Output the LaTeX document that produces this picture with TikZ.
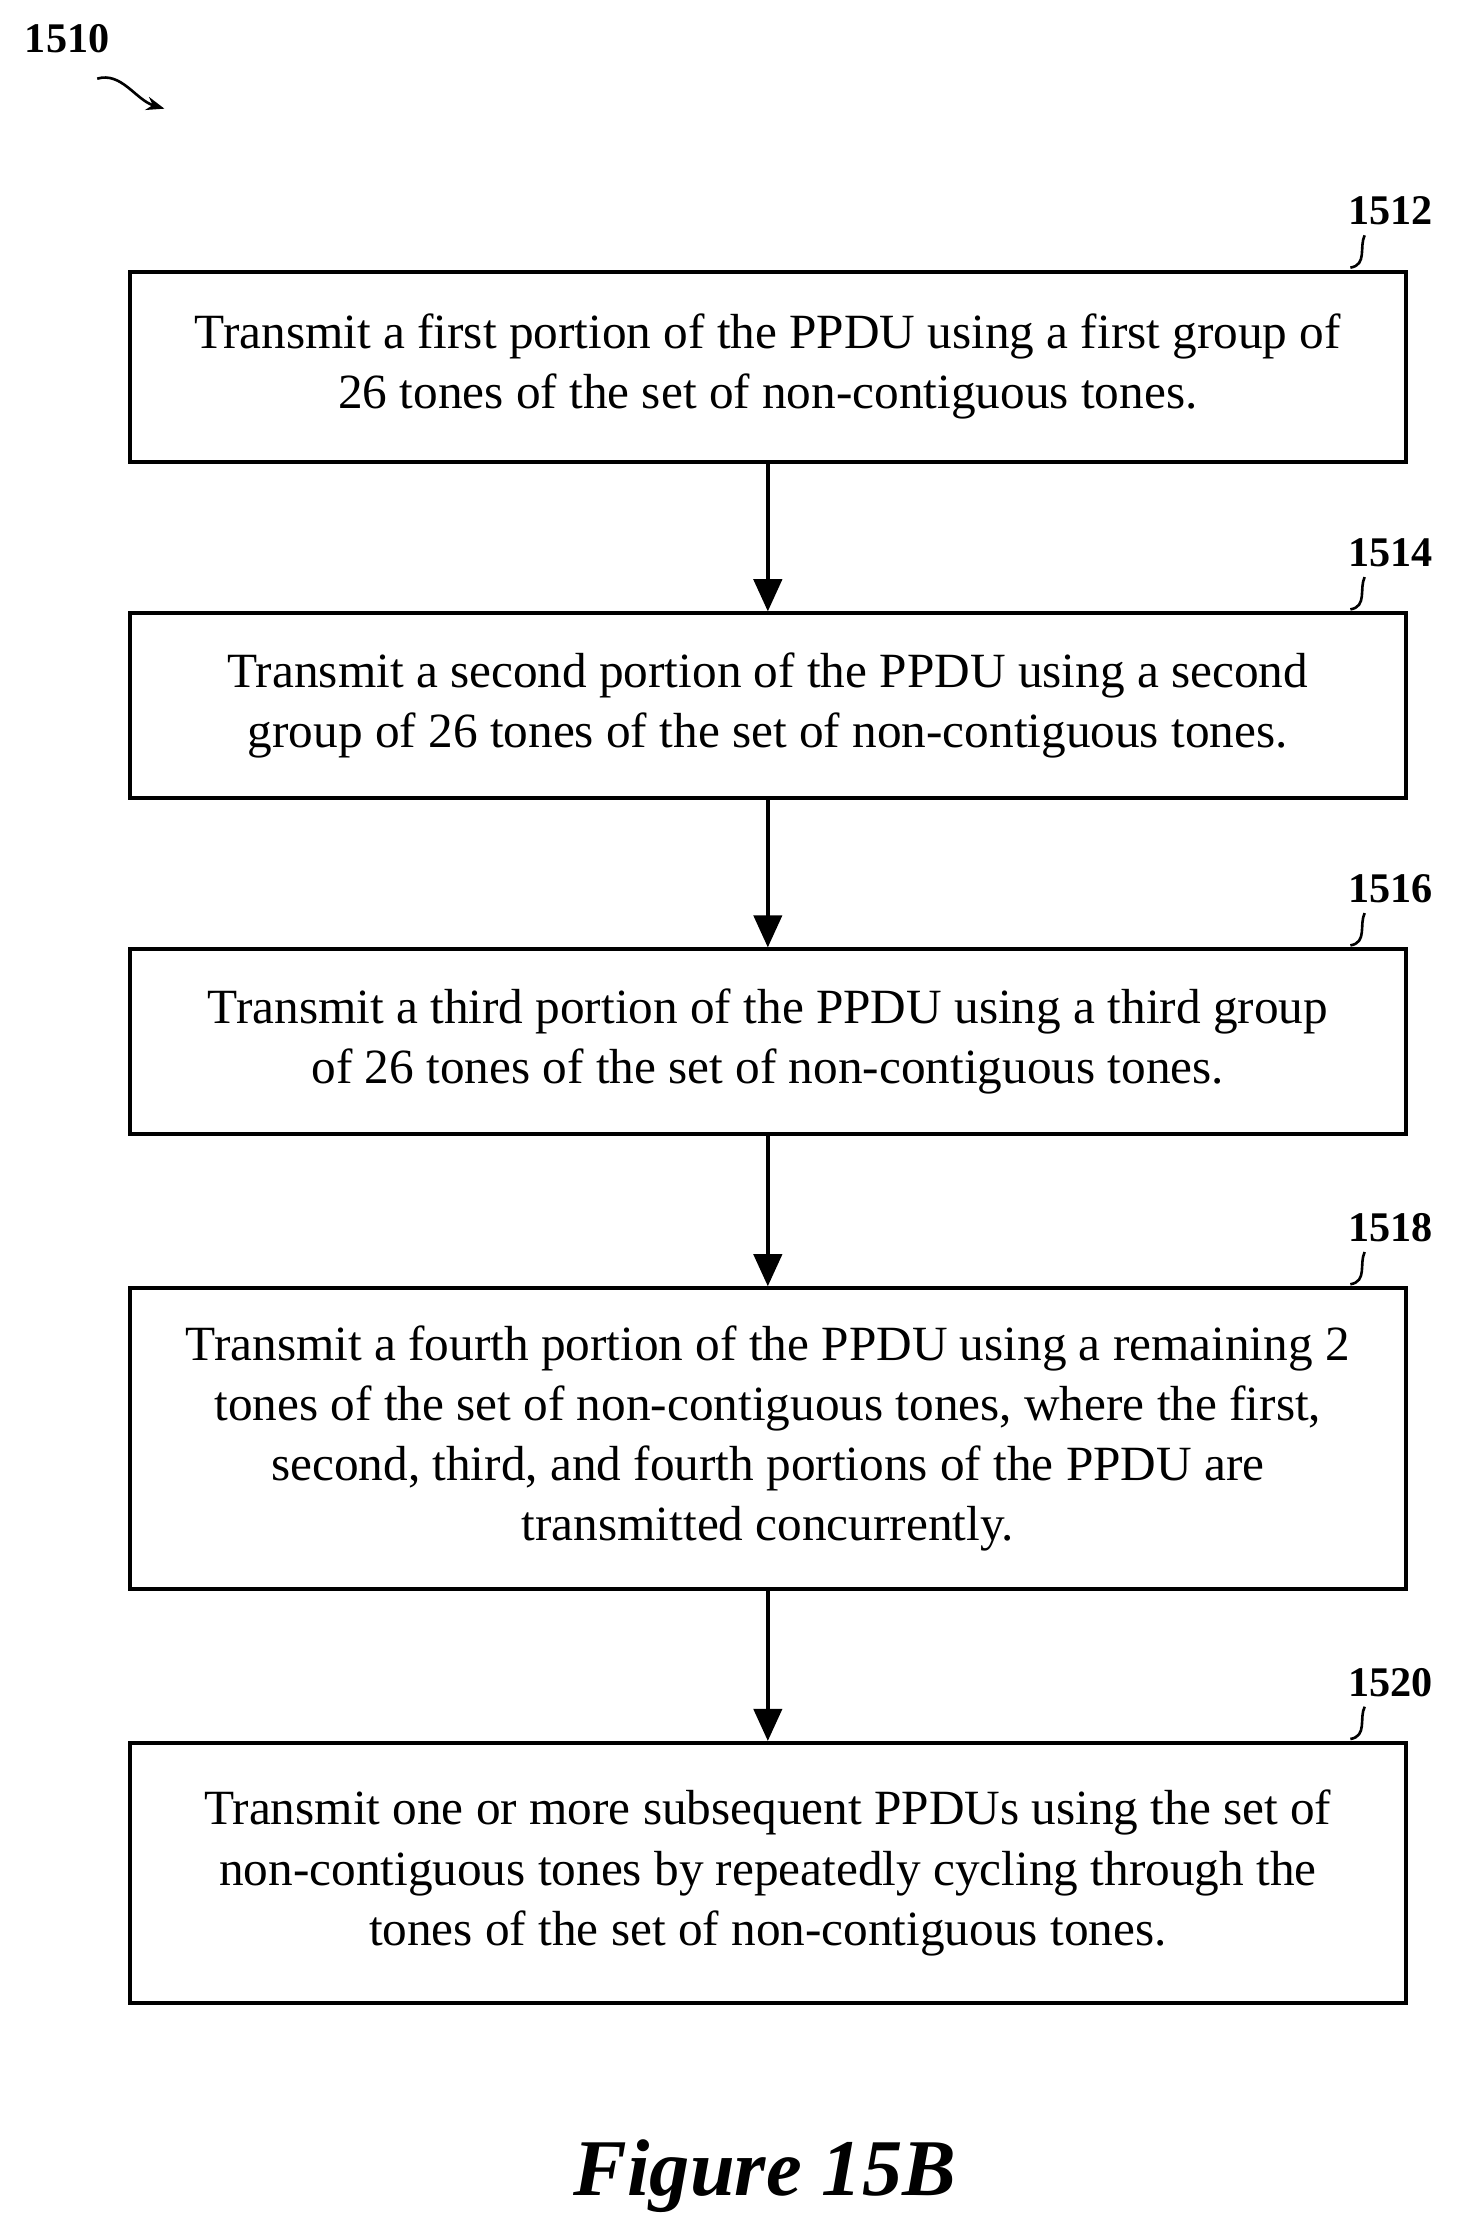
\documentclass[tikz,border=0pt]{standalone}
\usepackage{fontspec}
\setmainfont{Liberation Serif}
\usetikzlibrary{arrows.meta}
\tikzset{
  stepbox/.style={draw, line width=2pt, minimum width=892*0.025cm, align=center, font=\fontsize{24.5}{30}\selectfont},
  flow/.style={line width=2pt, -{Triangle[length=16pt, width=14pt]}},
  ref/.style={font=\bfseries\fontsize{21}{24}\selectfont},
  tick/.style={line width=1.3pt}
}
\begin{document}
\begin{tikzpicture}[x=0.025cm, y=-0.025cm]
\useasboundingbox (0,0) rectangle (1024,1561);

% Figure number and its squiggle arrow
\node[ref] (fig) at (47,27) {1510};
\draw[tick, -{Stealth[length=9pt]}] (68,55) .. controls (85,50) and (95,70) .. (115,76);

% Steps
\node[stepbox, minimum height=133*0.025cm] (s1) at (537,256.5) {Transmit a first portion of the PPDU using a first group of\\26 tones of the set of non-contiguous tones.};
\node[stepbox, minimum height=129*0.025cm] (s2) at (537,493.5) {Transmit a second portion of the PPDU using a second\\group of 26 tones of the set of non-contiguous tones.};
\node[stepbox, minimum height=129*0.025cm] (s3) at (537,728.5) {Transmit a third portion of the PPDU using a third group\\of 26 tones of the set of non-contiguous tones.};
\node[stepbox, minimum height=210*0.025cm] (s4) at (537,1006) {Transmit a fourth portion of the PPDU using a remaining 2\\tones of the set of non-contiguous tones, where the first,\\second, third, and fourth portions of the PPDU are\\transmitted concurrently.};
\node[stepbox, minimum height=182*0.025cm] (s5) at (537,1310) {Transmit one or more subsequent PPDUs using the set of\\non-contiguous tones by repeatedly cycling through the\\tones of the set of non-contiguous tones.};

% Reference labels
\foreach \n/\lab in {s1/1512, s2/1514, s3/1516, s4/1518, s5/1520}{
  \node[ref, anchor=south] (\n l) at ([xshift=-12*0.025cm, yshift=26*0.025cm]\n.north east) {\lab};
  \draw[tick] ([xshift=-40*0.025cm, yshift=1pt]\n.north east) .. controls +(12*0.025cm,2*0.025cm) and +(-4*0.025cm,-8*0.025cm) .. ([xshift=-18*0.025cm, yshift=-2*0.025cm]\n l.south);
}

% Arrows
\draw[flow] (s1) -- (s2);
\draw[flow] (s2) -- (s3);
\draw[flow] (s3) -- (s4);
\draw[flow] (s4) -- (s5);

\node[font=\bfseries\itshape\fontsize{40}{48}\selectfont] (cap) at (535,1522) {Figure 15B};
\end{tikzpicture}
\end{document}
